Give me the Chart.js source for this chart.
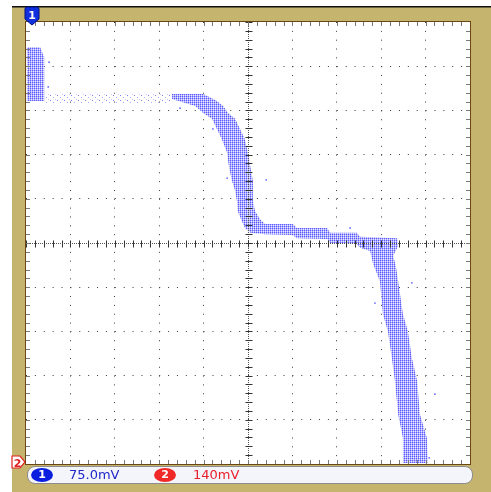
<!DOCTYPE html>
<html lang="en">
<head>
<meta charset="UTF-8">
<title>XY Trace</title>
<script src="https://cdn.jsdelivr.net/npm/chart.js"></script>
<style>
  body { margin: 0; background: #fff; }
  #wrap { position: relative; width: 491px; height: 492px; overflow: hidden; }
  #scope { position: absolute; left: 0; top: 0; }
  .bar { position: absolute; left: 27px; top: 466px; width: 444px; height: 16px; border: 1px solid #8c8c8c; border-radius: 8px; background: #f4f4fb; font-family: "DejaVu Sans", sans-serif; font-size: 13px; }
  .pill { position: absolute; top: 1px; width: 22px; height: 14px; border-radius: 50%; color: #fff; font-size: 11px; font-weight: bold; text-align: center; line-height: 14px; }
  .val { position: absolute; top: 0; line-height: 16px; }
  .mark { position: absolute; }
</style>
</head>
<body>
<div id="wrap">
  <canvas id="scope" width="491" height="492"></canvas>
  <svg class="mark" style="left:24px;top:6px" width="16" height="20">
    <path d="M1 3 Q1 1 3 1 L13 1 Q15 1 15 3 L15 13 L8 19 L1 13 Z" fill="#1030e0" stroke="#001080" stroke-width="1"/>
    <text x="8" y="13" fill="#fff" font-family="DejaVu Sans" font-size="11" font-weight="bold" text-anchor="middle">1</text>
  </svg>
  <svg class="mark" style="left:11px;top:454px" width="16" height="16">
    <path d="M1 2 L9 2 L14 8 L9 14 L1 14 Z" fill="#fff" stroke="#e02020" stroke-width="1.2"/>
    <text x="6.5" y="12.5" fill="#e02020" font-family="DejaVu Sans" font-size="11" font-weight="bold" text-anchor="middle">2</text>
  </svg>
  <div class="bar">
    <span class="pill" style="left:3px;background:#0a1ee0">1</span>
    <span class="val" style="left:41px;color:#1e28c8">75.0mV</span>
    <span class="pill" style="left:126px;background:#f02828">2</span>
    <span class="val" style="left:165px;color:#e8202a">140mV</span>
  </div>
</div>

<script>
    // Trace outline in divisions (x: ch1, y: ch2)
    const bandX = [-1.71, -1.01, -0.86, -0.70, -0.56, -0.45, -0.29, -0.18, -0.07, 0.00, 0.05, 0.11, 0.11, 0.16, 0.27, 0.38,
                   1.01, 1.10, 1.78, 1.85, 2.45, 2.52, 3.36, 3.38, 3.27, 3.33, 3.38, 3.49, 3.60, 3.69, 3.81, 3.87, 4.03, 4.05,
                   3.49, 3.49, 3.38, 3.31, 3.24, 3.15, 3.04, 2.97, 2.82, 2.75, 2.52, 2.45, 1.85, 1.78, 1.10, 1.01, 0.38, 0.05,
                   -0.07, -0.14, -0.23, -0.25, -0.29, -0.36, -0.41, -0.45, -0.47, -0.59, -0.70, -0.81, -1.01, -1.19, -1.49, -1.71];
    const bandY = [3.37, 3.37, 3.30, 3.21, 3.10, 2.94, 2.81, 2.58, 2.35, 2.04, 1.74, 1.40, 0.95, 0.72, 0.54, 0.43,
                   0.43, 0.34, 0.34, 0.23, 0.23, 0.14, 0.11, -0.07, -0.29, -0.52, -0.86, -1.61, -1.99, -2.60, -3.12, -3.87, -4.41, -4.98,
                   -4.98, -4.41, -3.87, -3.12, -2.60, -1.99, -1.61, -0.86, -0.48, -0.18, -0.11, -0.02, 0.00, 0.09, 0.11, 0.18, 0.20, 0.23,
                   0.34, 0.50, 0.72, 0.95, 1.18, 1.40, 1.63, 1.86, 2.04, 2.35, 2.58, 2.81, 2.94, 3.10, 3.19, 3.26];

    // Block at the left edge (clipped ch1)
    const blockX = [-4.98, -4.68, -4.63, -4.59, -4.59, -4.98];
    const blockY = [4.43, 4.43, 4.30, 4.21, 3.21, 3.21];

    // Sparse flat part of the top plateau
    const flatX = [-4.57, -1.71, -1.71, -4.57];
    const flatY = [3.40, 3.40, 3.17, 3.17];

    // Loose dots around the trace
    const strayX = [-4.48, -4.50, -1.53, -0.79, -0.47, 0.41, 2.30, 3.69, 2.86, 4.21, 4.08];
    const strayY = [4.09, 3.53, 3.05, 2.58, 1.47, 1.43, 0.34, -0.90, -1.36, -3.42, -4.86];

    const toPoints = (xs, ys) => xs.map((x, i) => ({ x: x, y: ys[i] }));

    function dotPattern(w, h, bg, dots) {
        const c = document.createElement('canvas');
        c.width = w; c.height = h;
        const g = c.getContext('2d');
        if (bg) { g.fillStyle = bg; g.fillRect(0, 0, w, h); }
        dots.forEach(d => { g.fillStyle = d[2]; g.fillRect(d[0], d[1], 1, 1); });
        return g.createPattern(c, 'repeat');
    }

    const dense = dotPattern(2, 2, null, [[0, 0, '#5a5aff'], [1, 0, '#b4b4ff'], [0, 1, '#a4a4ff'], [1, 1, '#e6e6ff']]);
    const sparse = dotPattern(7, 5, null, [[1, 0, '#7c7cff'], [4, 2, '#a8a8ff'], [6, 4, '#c8c8ff']]);

    const hideEdges = ctx => (ctx.tick && Math.abs(ctx.tick.value) % 5 === 0) ? 'rgba(0,0,0,0)' : '#3a3a3a';

    // Screen frame, centre cross and edge ticks
    const scopeFrame = {
        id: 'scopeFrame',
        beforeDraw(chart) {
            const c = chart.ctx, a = chart.chartArea;
            c.save();
            c.fillStyle = '#fff';
            c.fillRect(0, 0, chart.width, chart.height);
            c.fillStyle = '#c5b46d';
            c.fillRect(12, 7, chart.width - 12, chart.height - 7);
            c.fillStyle = '#111';
            c.fillRect(12, 6, chart.width - 12, 1.5);
            c.fillStyle = '#fff';
            c.fillRect(a.left, a.top, a.right - a.left, a.bottom - a.top);
            c.restore();
        },
        afterDatasetsDraw(chart) {
            const c = chart.ctx, a = chart.chartArea;
            const xs = chart.scales.x, ys = chart.scales.y;
            const x0 = Math.round(xs.getPixelForValue(0)) + 0.5;
            const y0 = Math.round(ys.getPixelForValue(0)) + 0.5;
            c.save();
            c.lineWidth = 1;
            c.strokeStyle = '#555';
            c.setLineDash([1, 1]);
            c.beginPath();
            c.moveTo(x0, a.top); c.lineTo(x0, a.bottom);
            c.moveTo(a.left, y0); c.lineTo(a.right, y0);
            c.stroke();
            c.setLineDash([]);
            c.beginPath();
            for (let i = -25; i <= 25; i++) {
                const v = i / 5;
                const px = Math.round(xs.getPixelForValue(v)) + 0.5;
                const py = Math.round(ys.getPixelForValue(v)) + 0.5;
                c.moveTo(px, y0 - 3); c.lineTo(px, y0 + 4);
                c.moveTo(x0 - 3, py); c.lineTo(x0 + 4, py);
            }
            c.strokeStyle = '#333';
            c.stroke();
            c.beginPath();
            for (let i = -24; i <= 24; i++) {
                const v = i / 5;
                const px = Math.round(xs.getPixelForValue(v)) + 0.5;
                const py = Math.round(ys.getPixelForValue(v)) + 0.5;
                c.moveTo(px, a.top); c.lineTo(px, a.top + 4);
                c.moveTo(px, a.bottom); c.lineTo(px, a.bottom - 4);
                c.moveTo(a.left, py); c.lineTo(a.left + 4, py);
                c.moveTo(a.right, py); c.lineTo(a.right - 4, py);
            }
            c.strokeStyle = '#7a7a7a';
            c.stroke();
            c.strokeStyle = '#6a4614';
            c.strokeRect(Math.round(a.left) - 0.5, Math.round(a.top) - 0.5, Math.round(a.right - a.left) + 1, Math.round(a.bottom - a.top) + 1);
            c.restore();
        }
    };

    const shapeSet = (pts, bg) => ({
        data: pts, showLine: true, fill: 'shape', backgroundColor: bg,
        borderWidth: 0, borderColor: 'rgba(0,0,0,0)', pointRadius: 0, tension: 0
    });

    new Chart(document.getElementById('scope'), {
        type: 'scatter',
        data: {
            datasets: [
                shapeSet(toPoints(bandX, bandY), dense),
                shapeSet(toPoints(blockX, blockY), dense),
                shapeSet(toPoints(flatX, flatY), sparse),
                {
                    data: toPoints(strayX, strayY), showLine: false,
                    pointRadius: 0.9, pointBorderWidth: 0, pointBackgroundColor: '#6a6aff'
                }
            ]
        },
        options: {
            responsive: false,
            animation: false,
            devicePixelRatio: 1,
            layout: { padding: { left: 26, top: 22, right: 21, bottom: 28 } },
            plugins: { legend: { display: false }, tooltip: { enabled: false } },
            scales: {
                x: {
                    type: 'linear', min: -5, max: 5,
                    ticks: { display: false, stepSize: 1 },
                    border: { display: false, dash: [1, 7.84] },
                    grid: { drawTicks: false, color: hideEdges, lineWidth: 1 }
                },
                y: {
                    type: 'linear', min: -5, max: 5,
                    ticks: { display: false, stepSize: 1 },
                    border: { display: false, dash: [1, 7.88] },
                    grid: { drawTicks: false, color: hideEdges, lineWidth: 1 }
                }
            }
        },
        plugins: [scopeFrame]
    });
</script>
</body>
</html>
